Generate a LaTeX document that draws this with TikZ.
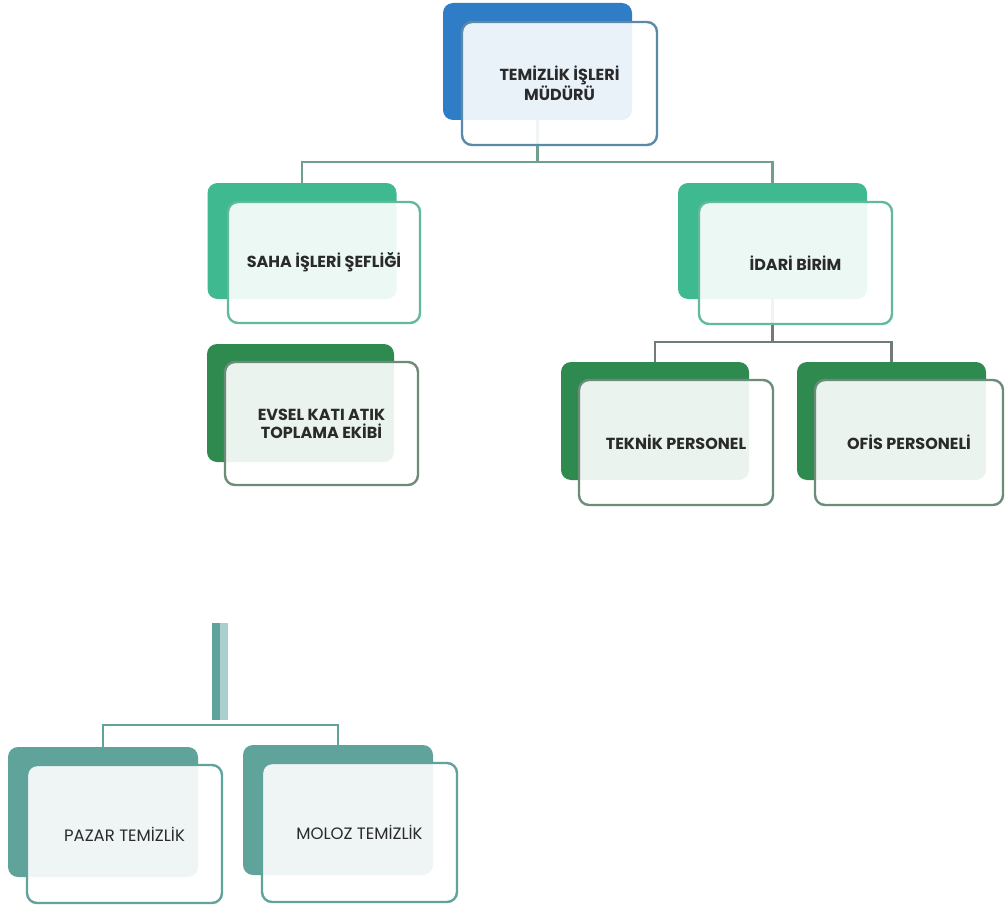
\documentclass[tikz,border=0pt]{standalone}
\usepackage{fontspec}
\setmainfont{Poppins}
\usetikzlibrary{backgrounds}
\definecolor{cblue}{HTML}{2F7DC6}
\definecolor{bblue}{HTML}{5A8AA8}
\definecolor{cmint}{HTML}{3FB98F}
\definecolor{bmint}{HTML}{62B9A2}
\definecolor{cdark}{HTML}{2F8A50}
\definecolor{bdark}{HTML}{6A8C78}
\definecolor{cteal}{HTML}{5FA39B}
\definecolor{lteal}{HTML}{A9D0CC}
\definecolor{lineg}{HTML}{6FA08C}
\definecolor{lineq}{HTML}{727C76}
\definecolor{txt}{HTML}{2A2A2A}
\tikzset{
  x=1pt, y=-1pt,
  back/.style={rectangle, rounded corners=10pt, inner sep=0pt, draw=none},
  front/.style={rectangle, rounded corners=10pt, inner sep=0pt, line width=2.4pt,
    fill=white, fill opacity=0.9, text opacity=1, align=center, text=txt,
    font=\fontsize{16}{18}\selectfont\bfseries},
  frontreg/.style={front, font=\fontsize{16.5}{18}\selectfont},
  conn/.style={line width=2.2pt},
}
\begin{document}
\begin{tikzpicture}
\useasboundingbox (0,0) rectangle (1005,907);
% top
\node[back, fill=cblue, minimum width=189pt, minimum height=117pt] (topb) at (537.5,61.5) {};
\node[front, draw=bblue, minimum width=195pt, minimum height=123pt] (topf) at (559.5,83.5) {TEMİZLİK İŞLERİ\\MÜDÜRÜ};
% level 2
\node[back, fill=cmint, minimum width=189pt, minimum height=116pt] (sahab) at (302,241) {};
\node[front, draw=bmint, minimum width=192pt, minimum height=121pt] (sahaf) at (324,262.5) {SAHA İŞLERİ ŞEFLİĞİ};
\node[back, fill=cmint, minimum width=189pt, minimum height=116pt] (idarib) at (772.5,241) {};
\node[front, draw=bmint, minimum width=193pt, minimum height=122pt] (idarif) at (795.5,263) {İDARİ BİRİM};
% level 3
\node[back, fill=cdark, minimum width=187pt, minimum height=118pt] (evselb) at (300.5,403) {};
\node[front, draw=bdark, minimum width=193pt, minimum height=123pt] (evself) at (321.5,423.5) {EVSEL KATI ATIK\\TOPLAMA EKİBİ};
\node[back, fill=cdark, minimum width=188pt, minimum height=118pt] (teknikb) at (655,421) {};
\node[front, draw=bdark, minimum width=194pt, minimum height=125pt] (teknikf) at (676,442.5) {TEKNİK PERSONEL};
\node[back, fill=cdark, minimum width=189pt, minimum height=118pt] (ofisb) at (891.5,421) {};
\node[front, draw=bdark, minimum width=188pt, minimum height=125pt] (ofisf) at (909,442.5) {OFİS PERSONELİ};
% bottom group
\node[rectangle, inner sep=0pt, fill=cteal, minimum width=8pt, minimum height=97pt] (stemA) at (216,671.5) {};
\node[rectangle, inner sep=0pt, fill=lteal, minimum width=8pt, minimum height=97pt] (stemB) at (224,671.5) {};
\node[back, fill=cteal, minimum width=190pt, minimum height=130pt] (pazarb) at (103,812) {};
\node[frontreg, draw=cteal, minimum width=195pt, minimum height=138pt] (pazarf) at (124.5,834) {PAZAR TEMİZLİK};
\node[back, fill=cteal, minimum width=190pt, minimum height=130pt] (molozb) at (338,810) {};
\node[frontreg, draw=cteal, minimum width=195pt, minimum height=139pt] (molozf) at (359.5,832.5) {MOLOZ TEMİZLİK};
% connectors
\begin{scope}[on background layer]
\coordinate (j1) at (537.5,162);
\draw[conn, lineg] (topb.south) -- (j1);
\draw[conn, lineg] (sahab.north) |- (j1) -| (idarib.north);
\coordinate (j2) at (772.5,342);
\draw[conn, lineq] (idarib.south) -- (j2);
\draw[conn, lineq] (teknikb.north) |- (j2) -| (ofisb.north);
\coordinate (j3) at (220,725);
\draw[conn, cteal] (pazarb.north) |- (j3) -| (molozb.north);
\end{scope}
\end{tikzpicture}
\end{document}
